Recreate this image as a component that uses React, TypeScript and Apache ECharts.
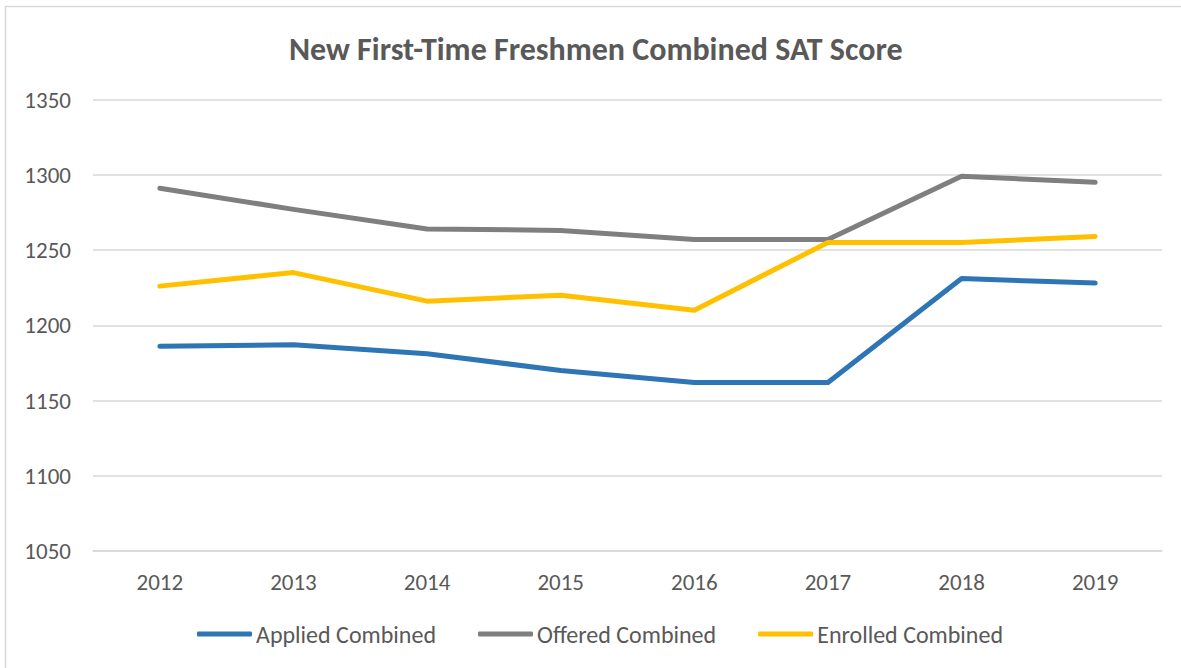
import React, { useEffect, useRef } from "react";
import * as echarts from "echarts";

const years = ["2012", "2013", "2014", "2015", "2016", "2017", "2018", "2019"];
const applied = [1186, 1187, 1181, 1170, 1162, 1162, 1231, 1228];
const offered = [1291, 1277, 1264, 1263, 1257, 1257, 1299, 1295];
const enrolled = [1226, 1235, 1216, 1220, 1210, 1255, 1255, 1259];
const seriesNames = ["Applied Combined", "Offered Combined", "Enrolled Combined"];
const colors = ["#2E75B6", "#7F7F7F", "#FFC000"];
const title = "New First-Time Freshmen Combined SAT Score";

const FONT = "Carlito, 'Open Sans', sans-serif";
const TXT = "#595959";

export default function App() {
  const ref = useRef<HTMLDivElement>(null);
  useEffect(() => {
    if (!ref.current) return;
    const chart = echarts.init(ref.current, undefined, { renderer: "svg" });
    const data = [applied, offered, enrolled];
    chart.setOption({
      animation: false,
      backgroundColor: "#ffffff",
      graphic: [
        {
          type: "rect",
          shape: { x: 5.5, y: 6.5, width: 1300, height: 800 },
          style: { fill: "none", stroke: "#D9D9D9", lineWidth: 1.5 },
          silent: true,
        },
      ],
      title: {
        text: title,
        left: 289,
        top: 33,
        padding: 0,
        textStyle: { fontFamily: FONT, fontWeight: "bold", fontSize: 32, color: TXT },
      },
      grid: { left: 93, right: 19, top: 99.5, bottom: 117, containLabel: false },
      xAxis: {
        type: "category",
        data: years,
        boundaryGap: true,
        axisLine: { show: true, lineStyle: { color: "#D9D9D9", width: 1.5 } },
        axisTick: { show: false },
        axisLabel: { fontFamily: FONT, fontSize: 23, color: TXT, margin: 19 },
      },
      yAxis: {
        type: "value",
        min: 1050,
        max: 1350,
        interval: 50,
        axisLine: { show: false },
        axisTick: { show: false },
        splitLine: { lineStyle: { color: "#D9D9D9", width: 1.5 } },
        axisLabel: {
          fontFamily: FONT,
          fontSize: 23,
          color: TXT,
          margin: 22,
          formatter: (v: number) => String(v),
        },
      },
      legend: {
        bottom: 17,
        left: 192,
        itemWidth: 55,
        itemHeight: 5,
        itemGap: 42,
        icon: "roundRect",
        textStyle: { fontFamily: FONT, fontSize: 24, color: TXT, padding: [0, 0, 0, -1] },
        data: seriesNames,
      },
      series: seriesNames.map((name, i) => ({
        name,
        type: "line",
        data: data[i],
        symbol: "none",
        color: colors[i],
        lineStyle: { width: 5, color: colors[i], cap: "round", join: "round" },
      })),
    });
    return () => chart.dispose();
  }, []);
  return (
    <div
      ref={ref}
      style={{ position: "fixed", left: 0, top: 0, width: 1181, height: 668 }}
    />
  );
}
